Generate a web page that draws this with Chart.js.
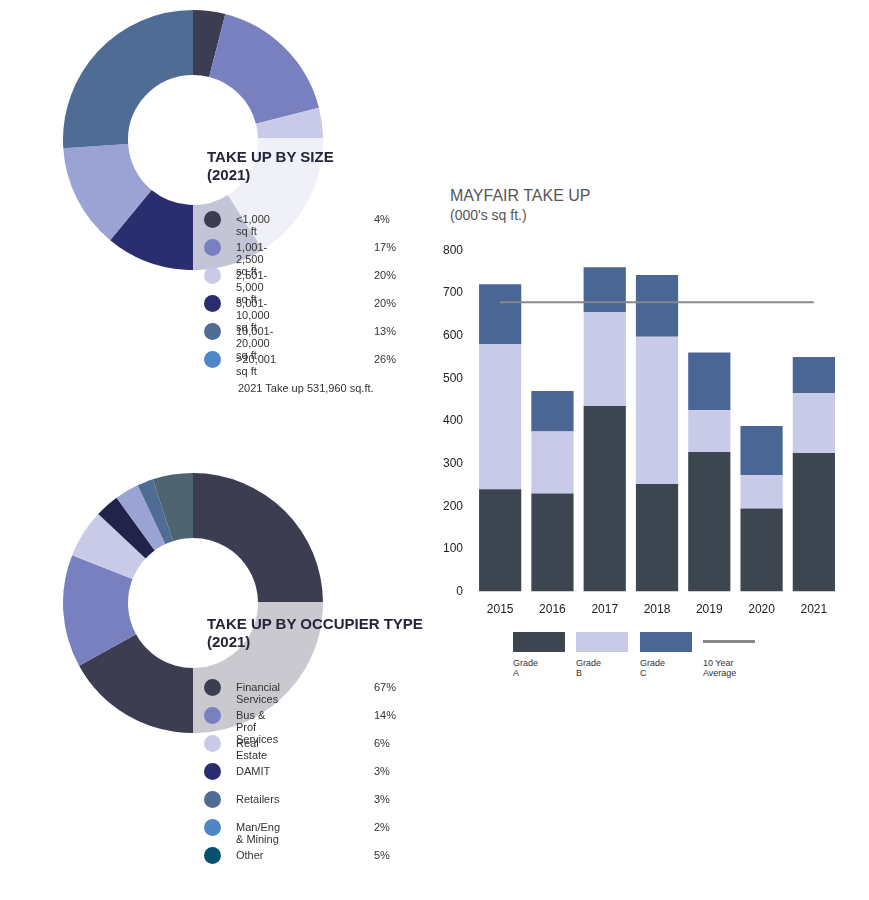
<!DOCTYPE html>
<html>
<head>
<meta charset="utf-8">
<script src="https://cdn.jsdelivr.net/npm/chart.js@4"></script>
<style>
  body { margin: 0; width: 869px; height: 900px; background: #fff; font-family: "Liberation Sans", Arial, sans-serif; position: relative; overflow: hidden; }
  .abs { position: absolute; }
  .veil { position: absolute; background: rgba(255,255,255,0.72); }
  .title { position: absolute; font-weight: bold; font-size: 15px; color: #24243a; line-height: 18px; }
  .legend { position: absolute; font-size: 11px; color: #333; }
  .legend .row { position: relative; height: 28px; }
  .legend .dot { position: absolute; left: 0; top: 0; width: 17px; height: 17px; border-radius: 50%; }
  .legend .lab { position: absolute; left: 32px; top: 2px; }
  .legend .pct { position: absolute; left: 170px; top: 2px; }
  .barLegend { position: absolute; top: 632px; left: 513px; font-size: 9px; color: #333; }
  .barLegend .sw { position: absolute; width: 52px; height: 20px; }
  .barLegend .tx { position: absolute; top: 26px; }
</style>
</head>
<body>
<canvas id="sizeDonut" class="abs" style="left:63px;top:10px" width="260" height="260"></canvas>
<div class="veil" style="left:193px;top:138px;width:130px;height:135px"></div>
<div class="title" style="left:207px;top:148px">TAKE UP BY SIZE<br>(2021)</div>
<div class="legend" id="sizeLegend" style="left:204px;top:211px"></div>
<div class="abs" style="left:238px;top:382px;font-size:11px;color:#333">2021 Take up 531,960 sq.ft.</div>

<canvas id="typeDonut" class="abs" style="left:63px;top:473px" width="260" height="260"></canvas>
<div class="veil" style="left:193px;top:602px;width:130px;height:135px"></div>
<div class="title" style="left:207px;top:615px">TAKE UP BY OCCUPIER TYPE<br>(2021)</div>
<div class="legend" id="typeLegend" style="left:204px;top:679px"></div>

<div class="abs" style="left:450px;top:186px;font-size:16px;color:#555;line-height:19px">MAYFAIR TAKE UP<br><span style="font-size:14px">(000's sq ft.)</span></div>
<canvas id="barChart" class="abs" style="left:440px;top:240px" width="400" height="380"></canvas>
<div class="barLegend">
  <div class="sw" style="left:0;background:#3d4650"></div><div class="tx" style="left:0">Grade A</div>
  <div class="sw" style="left:63px;background:#c8cae8"></div><div class="tx" style="left:63px">Grade B</div>
  <div class="sw" style="left:127px;background:#4a6694"></div><div class="tx" style="left:127px">Grade C</div>
  <div class="sw" style="left:190px;top:8px;height:3px;background:#888"></div><div class="tx" style="left:190px">10 Year Average</div>
</div>

<script>
const sizeLabels = ['<1,000 sq ft', '1,001-2,500 sq ft', '2,501-5,000 sq ft', '5,001-10,000 sq ft', '10,001-20,000 sq ft', '>20,001 sq ft'];
const sizeValues = [4, 17, 20, 20, 13, 26];
const sizeSliceColors = ['#3d3d52', '#7880bf', '#c8cae8', '#2a2d6e', '#9ba3d4', '#4f6d94'];
const sizeDotColors = ['#3d3d52', '#7880bf', '#c8cae8', '#2a2d6e', '#4f6d94', '#4f86c6'];

const typeLabels = ['Financial Services', 'Bus & Prof Services', 'Real Estate', 'DAMIT', 'Retailers', 'Man/Eng & Mining', 'Other'];
const typeValues = [67, 14, 6, 3, 3, 2, 5];
const typeSliceColors = ['#3d3d52', '#7880bf', '#c8cae8', '#22234a', '#9ba3d4', '#4f6d94', '#4f6470'];
const typeDotColors = ['#3d3d52', '#7880bf', '#c8cae8', '#2a2d6e', '#4f6d94', '#4f86c6', '#07506e'];

const years = ['2015', '2016', '2017', '2018', '2019', '2020', '2021'];
const gradeA = [240, 230, 435, 252, 327, 195, 325];
const gradeB = [340, 145, 220, 345, 98, 78, 140];
const gradeC = [140, 95, 105, 145, 135, 115, 85];
const tenYearAvg = [678, 678, 678, 678, 678, 678, 678];
const yTicks = [0, 100, 200, 300, 400, 500, 600, 700, 800];

function buildLegend(id, labels, values, colors) {
    const el = document.getElementById(id);
    labels.forEach((l, i) => {
        const row = document.createElement('div');
        row.className = 'row';
        row.innerHTML = '<div class="dot" style="background:' + colors[i] + '"></div>' +
            '<div class="lab">' + l.replace('<', '&lt;') + '</div><div class="pct">' + values[i] + '%</div>';
        el.appendChild(row);
    });
}

function donut(id, values, colors) {
    new Chart(document.getElementById(id), {
        type: 'doughnut',
        data: { datasets: [{ data: values, backgroundColor: colors, borderWidth: 0 }] },
        options: {
            responsive: false,
            animation: false,
            cutout: '50%',
            plugins: { legend: { display: false }, tooltip: { enabled: false } }
        }
    });
}

donut('sizeDonut', sizeValues, sizeSliceColors);
donut('typeDonut', typeValues, typeSliceColors);
buildLegend('sizeLegend', sizeLabels, sizeValues, sizeDotColors);
buildLegend('typeLegend', typeLabels, typeValues, typeDotColors);

new Chart(document.getElementById('barChart'), {
    data: {
        labels: years,
        datasets: [
            { type: 'line', label: '10 Year Average', data: tenYearAvg, borderColor: '#888', borderWidth: 2, pointRadius: 0, order: 0 },
            { type: 'bar', label: 'Grade A', data: gradeA, backgroundColor: '#3d4650', order: 1 },
            { type: 'bar', label: 'Grade B', data: gradeB, backgroundColor: '#c8cae8', order: 1 },
            { type: 'bar', label: 'Grade C', data: gradeC, backgroundColor: '#4a6694', order: 1 }
        ]
    },
    options: {
        responsive: false,
        animation: false,
        datasets: { bar: { categoryPercentage: 0.85, barPercentage: 0.95 } },
        plugins: { legend: { display: false }, tooltip: { enabled: false } },
        scales: {
            x: {
                stacked: true,
                grid: { display: false },
                border: { display: false },
                ticks: { color: '#222', font: { size: 12, family: 'Liberation Sans' } }
            },
            y: {
                stacked: true,
                min: 0,
                max: 800,
                grid: { display: false },
                border: { display: false },
                afterBuildTicks: axis => { axis.ticks = yTicks.map(v => ({ value: v })); },
                ticks: { color: '#222', font: { size: 12, family: 'Liberation Sans' } }
            }
        }
    }
});
</script>
</body>
</html>
